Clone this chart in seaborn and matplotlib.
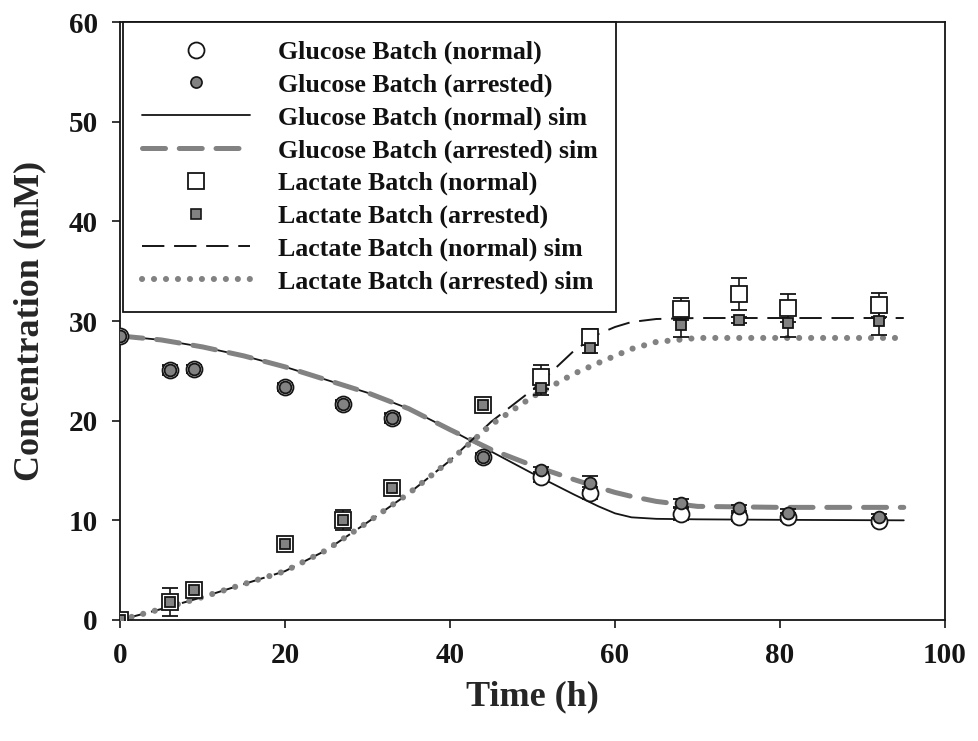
import numpy as np
import pandas as pd
import matplotlib
matplotlib.use("Agg")
import matplotlib.pyplot as plt
import seaborn as sns
from matplotlib.lines import Line2D

# ---------------- data ----------------
time_obs = [0, 6, 9, 20, 27, 33, 44, 51, 57, 68, 75, 81, 92]
glc_normal = [28.5, 25.1, 25.2, 23.4, 21.7, 20.3, 16.4, 14.3, 12.7, 10.6, 10.3, 10.3, 9.9]
glc_normal_err = [0.3, 0.5, 0.4, 0.4, 0.4, 0.5, 0.4, 0.5, 0.6, 0.6, 0.4, 0.4, 0.3]
glc_arrested = [28.5, 25.1, 25.2, 23.4, 21.7, 20.3, 16.4, 15.0, 13.7, 11.7, 11.2, 10.7, 10.3]
glc_arrested_err = [0.3, 0.4, 0.4, 0.3, 0.3, 0.4, 0.3, 0.4, 0.7, 0.4, 0.3, 0.4, 0.3]
lac_normal = [0.0, 1.8, 3.0, 7.6, 10.0, 13.2, 21.6, 24.4, 28.4, 31.2, 32.7, 31.3, 31.6]
lac_normal_err = [0.3, 1.4, 0.6, 0.4, 1.0, 0.6, 0.5, 1.2, 0.8, 1.1, 1.6, 1.4, 1.2]
lac_arrested = [0.0, 1.8, 3.0, 7.6, 10.0, 13.2, 21.6, 23.3, 27.3, 29.6, 30.1, 29.8, 30.0]
lac_arrested_err = [0.3, 0.5, 0.4, 0.3, 0.5, 0.5, 0.4, 0.7, 0.5, 1.2, 0.3, 1.4, 1.4]

time_sim = [0, 5, 10, 15, 20, 25, 30, 35, 40, 45, 50, 55, 58, 60, 62, 65, 70, 80, 95]
glc_normal_sim = [28.5, 28.1, 27.4, 26.5, 25.4, 24.1, 22.8, 21.2, 19.1, 16.9, 14.7, 12.6, 11.4, 10.7, 10.3, 10.15, 10.1, 10.05, 10.0]
glc_arrested_sim = [28.5, 28.1, 27.4, 26.5, 25.4, 24.1, 22.8, 21.2, 19.1, 17.1, 15.5, 14.1, 13.3, 12.8, 12.4, 11.9, 11.4, 11.3, 11.3]
lac_normal_sim = [0.0, 1.1, 2.3, 3.6, 4.9, 7.0, 9.8, 12.7, 16.0, 19.9, 23.1, 27.0, 28.7, 29.4, 29.9, 30.2, 30.3, 30.3, 30.3]
lac_arrested_sim = [0.0, 1.1, 2.3, 3.6, 4.9, 7.0, 9.8, 12.7, 16.0, 19.6, 22.4, 24.7, 25.8, 26.5, 27.2, 27.9, 28.3, 28.3, 28.3]

labels = ["Glucose Batch (normal)", "Glucose Batch (arrested)",
          "Glucose Batch (normal) sim", "Glucose Batch (arrested) sim",
          "Lactate Batch (normal)", "Lactate Batch (arrested)",
          "Lactate Batch (normal) sim", "Lactate Batch (arrested) sim"]

# ---------------- style ----------------
sns.set_theme(style="white")
plt.rcParams["font.family"] = ["Liberation Serif", "DejaVu Serif"]
plt.rcParams["font.weight"] = "bold"
plt.rcParams["text.color"] = "#111111"

GREY = "#828282"
INK = "#151515"

fig = plt.figure(figsize=(9.79, 7.41), dpi=100)
ax = fig.add_axes([0.1226, 0.1633, 0.8427, 0.8070])

# simulation curves (seaborn)
sim_df = pd.DataFrame({"t": time_sim, "gn": glc_normal_sim, "ga": glc_arrested_sim,
                       "ln": lac_normal_sim, "la": lac_arrested_sim})
sim_styles = {
    "gn": dict(color=INK, linewidth=1.3, linestyle="-"),
    "ga": dict(color=GREY, linewidth=3.6, linestyle=(0, (4.6, 2.75)), dash_capstyle="round"),
    "ln": dict(color=INK, linewidth=1.4, linestyle=(0, (11.5, 5))),
    "la": dict(color=GREY, linewidth=4.4, linestyle=(0, (0.01, 1.95)), dash_capstyle="round"),
}
for key in ["gn", "ga", "ln", "la"]:
    sns.lineplot(data=sim_df, x="t", y=key, ax=ax, legend=False, zorder=2, **sim_styles[key])

# observations with error bars
def obs(y, err, marker, ms, fc, mew):
    ax.errorbar(time_obs, y, yerr=err, fmt=marker, ms=ms, mfc=fc, mec=INK, mew=mew,
                ecolor=INK, elinewidth=1.2, capsize=6, capthick=1.2, zorder=4)

obs(glc_normal, glc_normal_err, "o", 11.5, "white", 1.3)
obs(glc_arrested, glc_arrested_err, "o", 8.5, GREY, 1.3)
obs(lac_normal, lac_normal_err, "s", 11, "white", 1.3)
obs(lac_arrested, lac_arrested_err, "s", 7.5, GREY, 1.3)

# axes
ax.set_xlim(0, 100)
ax.set_ylim(0, 60)
ax.set_xticks([0, 20, 40, 60, 80, 100])
ax.set_yticks([0, 10, 20, 30, 40, 50, 60])
ax.tick_params(axis="both", direction="out", length=6, width=1.2, colors=INK,
               labelsize=21, pad=10, bottom=True, left=True)
for lab in ax.get_xticklabels() + ax.get_yticklabels():
    lab.set_fontweight("bold")
for sp in ax.spines.values():
    sp.set_visible(True)
    sp.set_color(INK)
    sp.set_linewidth(1.3)
ax.grid(False)
ax.set_xlabel("Time (h)", fontsize=26, fontweight="bold", labelpad=8)
ax.set_ylabel("Concentration (mM)", fontsize=26, fontweight="bold", labelpad=16)

# legend
handles = [
    Line2D([], [], linestyle="none", marker="o", ms=11.5, mfc="white", mec=INK, mew=1.3),
    Line2D([], [], linestyle="none", marker="o", ms=8, mfc=GREY, mec=INK, mew=1.2),
    Line2D([], [], **sim_styles["gn"]),
    Line2D([], [], **sim_styles["ga"]),
    Line2D([], [], linestyle="none", marker="s", ms=11, mfc="white", mec=INK, mew=1.3),
    Line2D([], [], linestyle="none", marker="s", ms=7.5, mfc=GREY, mec=INK, mew=1.2),
    Line2D([], [], **sim_styles["ln"]),
    Line2D([], [], **sim_styles["la"]),
]
leg = ax.legend(handles, labels, loc="upper left", bbox_to_anchor=(0.004, 1.0),
                borderaxespad=0, handlelength=4.2, handletextpad=1.05,
                labelspacing=0.36, borderpad=0.72, fancybox=False, framealpha=1,
                edgecolor=INK, prop={"weight": "bold", "size": 18.6})
leg.get_frame().set_linewidth(1.3)

fig.savefig("out.png", dpi=100)
